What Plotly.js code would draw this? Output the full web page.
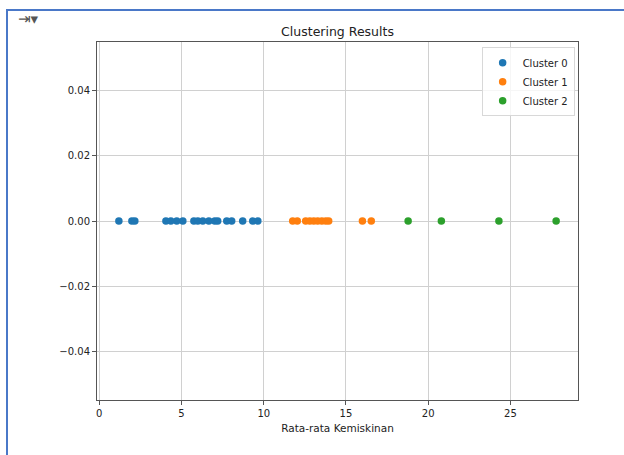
<!DOCTYPE html>
<html>
<head>
<meta charset="utf-8">
<script src="https://cdn.plot.ly/plotly-3.0.1.min.js"></script>
<style>
  html, body { margin: 0; padding: 0; background: #ffffff; }
  #wrap { position: relative; width: 624px; height: 455px; }
  #chart { position: absolute; left: 0; top: 0; width: 624px; height: 455px; }
  #frame { position: absolute; left: 6px; top: 9px; width: 618px; height: 446px;
           border-left: 2px solid #4a78c8; border-top: 2px solid #4a78c8;
           box-sizing: border-box; pointer-events: none; }
</style>
</head>
<body>
<div id="wrap">
  <div id="chart"></div>
  <div id="frame"></div>
</div>
<script>
// Cluster values (Rata-rata Kemiskinan), all plotted at y = 0
const cluster0 = [1.19, 1.98, 2.16, 4.05, 4.35, 4.71, 5.08, 5.75, 5.99, 6.29, 6.66, 7.02, 7.2, 7.75, 8.05, 8.72, 9.33, 9.64];
const cluster1 = [11.76, 12.04, 12.55, 12.8, 13.04, 13.28, 13.53, 13.77, 13.95, 16.0, 16.54];
const cluster2 = [18.78, 20.8, 24.3, 27.78];
const clusterNames = ["Cluster 0", "Cluster 1", "Cluster 2"];
const clusterColors = ["#1f77b4", "#ff7f0e", "#2ca02c"];
const yTicks = [-0.04, -0.02, 0.0, 0.02, 0.04];
const xTicks = [0, 5, 10, 15, 20, 25];

const groups = [cluster0, cluster1, cluster2];
const traces = groups.map((g, i) => ({
  type: "scatter",
  mode: "markers",
  x: g,
  y: g.map(() => 0),
  name: clusterNames[i],
  marker: { color: clusterColors[i], size: 7.5, line: { width: 0 } }
}));

const font = "DejaVu Sans, sans-serif";
const layout = {
  width: 624, height: 455,
  margin: { l: 97, r: 46, t: 42, b: 55 },
  paper_bgcolor: "#ffffff",
  plot_bgcolor: "#ffffff",
  font: { family: font, size: 10, color: "#222222" },
  title: { text: "Clustering Results", font: { family: font, size: 12.5, color: "#222222" },
           x: 0.5, xref: "paper", xanchor: "center", y: 1, yref: "paper", yanchor: "bottom", pad: { b: 6 } },
  showlegend: true,
  legend: {
    x: 0.993, xanchor: "right", y: 0.985, yanchor: "top",
    bgcolor: "rgba(255,255,255,0.8)", bordercolor: "#d8d8d8", borderwidth: 1,
    font: { family: font, size: 10, color: "#222222" },
    itemwidth: 30, tracegroupgap: 0
  },
  xaxis: {
    range: [-0.14, 29.11],
    tickvals: xTicks, ticktext: xTicks.map(String),
    showgrid: true, gridcolor: "#d0d0d0", gridwidth: 1,
    zeroline: false,
    showline: true, linecolor: "#555555", linewidth: 1, mirror: true,
    ticks: "outside", ticklen: 4, tickcolor: "#555555",
    tickfont: { family: font, size: 10, color: "#222222" },
    title: { text: "Rata-rata Kemiskinan", font: { family: font, size: 10.5, color: "#222222" }, standoff: 6 }
  },
  yaxis: {
    range: [-0.055, 0.055],
    tickvals: yTicks, ticktext: yTicks.map(v => (v < 0 ? "\u2212" : "") + Math.abs(v).toFixed(2)),
    showgrid: true, gridcolor: "#d0d0d0", gridwidth: 1,
    zeroline: false,
    showline: true, linecolor: "#555555", linewidth: 1, mirror: true,
    ticks: "outside", ticklen: 4, tickcolor: "#555555",
    tickfont: { family: font, size: 10, color: "#222222" }
  },
  annotations: [{
    text: "\u21E5\u25BE", xref: "paper", yref: "paper",
    x: -0.143, y: 1.063, xanchor: "center", yanchor: "middle",
    showarrow: false, font: { family: font, size: 15, color: "#555555" }
  }]
};

Plotly.newPlot("chart", traces, layout, { displayModeBar: false, staticPlot: true });
</script>
</body>
</html>
